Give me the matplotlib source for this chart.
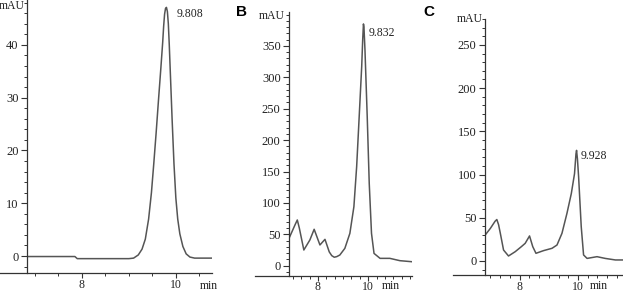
import matplotlib
matplotlib.use("Agg")
import matplotlib.pyplot as plt
from matplotlib.ticker import MultipleLocator

# chromatogram traces (time in min, absorbance in mAU)
time_a = [6.83, 7.85, 7.90, 9.00, 9.10, 9.20, 9.28, 9.35, 9.42, 9.48, 9.53, 9.58,
          9.63, 9.68, 9.72, 9.74, 9.76, 9.78, 9.80, 9.82, 9.84, 9.86, 9.89, 9.92,
          9.96, 10.00, 10.04, 10.085, 10.15, 10.22, 10.30, 10.40, 10.77]
mau_a = [-0.1, -0.1, -0.5, -0.5, -0.4, 0.2, 1.3, 3.2, 7.0, 12.0, 17.5, 23.3,
         29.5, 35.5, 40.5, 43.5, 45.8, 46.9, 47.1, 46.3, 44.0, 40.0, 33.0, 26.0,
         17.5, 11.0, 7.0, 4.2, 1.8, 0.4, -0.2, -0.4, -0.4]

time_b = [6.85, 7.10, 7.18, 7.26, 7.44, 7.68, 7.85, 8.08, 8.28, 8.45, 8.55, 8.65,
          8.75, 8.87, 9.07, 9.27, 9.43, 9.54, 9.64, 9.74, 9.78, 9.81, 9.83, 9.87,
          9.96, 10.04, 10.13, 10.23, 10.47, 10.86, 11.26, 11.72]
mau_b = [43.5, 66, 72.8, 60, 25, 41, 58, 33, 42, 22, 16, 13.5,
         14.5, 17, 27.6, 51.5, 94, 158, 237, 317, 360, 385, 380, 344,
         237, 131, 51.5, 19.6, 11.7, 11.7, 8, 6.4]

time_c = [6.82, 7.00, 7.16, 7.22, 7.28, 7.34, 7.45, 7.62, 7.85, 8.06, 8.19, 8.34,
          8.45, 8.56, 8.82, 9.11, 9.28, 9.45, 9.62, 9.77, 9.88, 9.93, 9.95, 9.98,
          10.02, 10.11, 10.19, 10.31, 10.65, 10.93, 11.28, 11.54]
mau_c = [30, 37.8, 46, 48, 42, 32, 12.7, 5.8, 10.8, 16.6, 20.4, 29,
         16.6, 8.9, 12, 14.7, 18.5, 32, 55, 78, 101, 124, 128, 118,
         97.6, 39.7, 7, 3, 5, 3, 1.2, 1.2]

peak_labels = ["9.808", "9.832", "9.928"]
yticks_a = [0, 10, 20, 30, 40]
yticks_b = [0, 50, 100, 150, 200, 250, 300, 350]
yticks_c = [0, 50, 100, 150, 200, 250]
xticks = [8, 10]

W, H = 623, 293
fig = plt.figure(figsize=(W / 100, H / 100), dpi=100)
plt.rcParams['font.family'] = ['Liberation Serif', 'DejaVu Serif']

axis_col = '#333333'
line_col = '#555555'


def box(x0, x1, ytop, ybot):
    return [x0 / W, 1 - ybot / H, (x1 - x0) / W, (ybot - ytop) / H]


def panel(rect, t, y, xlim, ylim, xext, yticks, yminor, xminor, label, label_xy):
    ax = fig.add_axes(rect)
    ax.plot(t, y, color=line_col, lw=1.1, solid_joinstyle='round')
    ax.set_xlim(*xlim)
    ax.set_ylim(*ylim)
    ax.patch.set_visible(False)
    for s in ['top', 'right']:
        ax.spines[s].set_visible(False)
    for s in ['left', 'bottom']:
        ax.spines[s].set_color(axis_col)
        ax.spines[s].set_linewidth(0.9)
    ax.spines['bottom'].set_bounds(xext, xlim[1])
    ax.set_xticks(xticks)
    ax.set_yticks(yticks)
    ax.xaxis.set_minor_locator(MultipleLocator(xminor))
    ax.yaxis.set_minor_locator(MultipleLocator(yminor))
    ax.tick_params(which='major', direction='out', length=4, width=0.8,
                   color=axis_col, labelsize=9, labelcolor='#222222', pad=2)
    ax.tick_params(which='minor', direction='out', length=2.5, width=0.7,
                   color=axis_col)
    ax.tick_params(axis='x', which='major', length=3.5, pad=0.5, labelsize=8.5)
    ax.text(label_xy[0], label_xy[1], label, fontsize=8.5, color='#222222',
            va='center', ha='left')
    return ax


ax_a = panel(box(27, 212, 0, 273), time_a, mau_a, (6.83, 10.77), (-3.22, 48.5),
             6.25, yticks_a, 2, 0.5, peak_labels[0], (10.02, 45.9))
ax_b = panel(box(289, 412, 12, 275.5), time_b, mau_b, (6.85, 11.74), (-15.6, 404),
             5.5, yticks_b, 10, 1 / 3, peak_labels[1], (10.03, 371))
ax_c = panel(box(485, 623, 19, 275), time_c, mau_c, (6.815, 11.54), (-16.2, 280),
             5.72, yticks_c, 10, 1 / 3, peak_labels[2], (10.10, 121))


def ftext(px, py, s, **kw):
    fig.text(px / W, 1 - py / H, s, **kw)


# unit labels
for px, py in [(25, 6), (285, 16), (483, 19)]:
    ftext(px, py, "mAU", fontsize=8.5, ha='right', va='center', color='#222222')
for px, py in [(200, 286), (382, 286), (590, 286)]:
    ftext(px, py, "min", fontsize=8.5, ha='left', va='center', color='#222222')

# panel letters
ftext(236, 12, "B", fontsize=11, fontweight='bold', family='Liberation Sans',
      ha='left', va='center')
ftext(423, 12.5, "C", fontsize=11, fontweight='bold', family='Liberation Sans',
      ha='left', va='center')

fig.savefig("out.png", dpi=100)
